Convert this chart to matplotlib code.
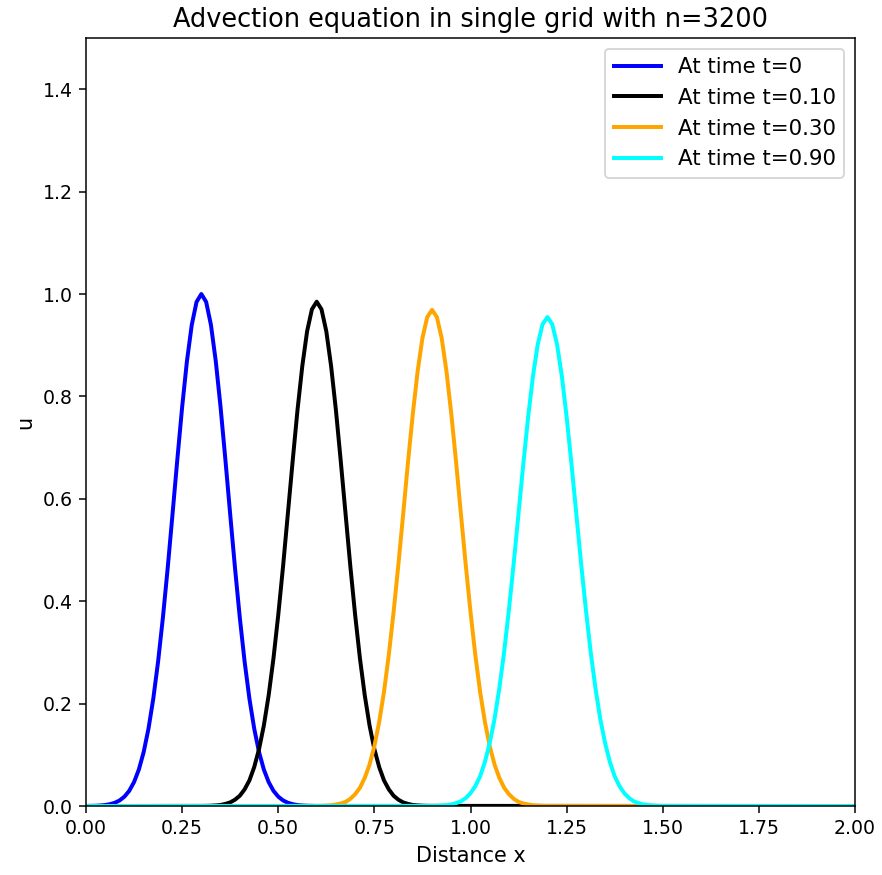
import matplotlib
matplotlib.use("Agg")
import matplotlib.pyplot as plt

offsets = [-0.3, -0.2875, -0.275, -0.2625, -0.25, -0.2375, -0.225, -0.2125, -0.2, -0.1875,
           -0.175, -0.1625, -0.15, -0.1375, -0.125, -0.1125, -0.1, -0.0875, -0.075, -0.0625,
           -0.05, -0.0375, -0.025, -0.0125, 0.0, 0.0125, 0.025, 0.0375, 0.05, 0.0625, 0.075,
           0.0875, 0.1, 0.1125, 0.125, 0.1375, 0.15, 0.1625, 0.175, 0.1875, 0.2, 0.2125, 0.225,
           0.2375, 0.25, 0.2625, 0.275, 0.2875, 0.3]

labels = ["At time t=0", "At time t=0.10", "At time t=0.30", "At time t=0.90"]
colors = ["blue", "black", "orange", "cyan"]
centers = [0.3, 0.6, 0.9, 1.2]

u_t0 = [0.0001, 0.0003, 0.0005, 0.0010, 0.0019, 0.0036, 0.0063, 0.0109, 0.0183, 0.0297,
        0.0468, 0.0713, 0.1054, 0.1510, 0.2096, 0.2821, 0.3679, 0.4650, 0.5698, 0.6766,
        0.7788, 0.8688, 0.9394, 0.9845, 1.0, 0.9845, 0.9394, 0.8688, 0.7788, 0.6766, 0.5698,
        0.4650, 0.3679, 0.2821, 0.2096, 0.1510, 0.1054, 0.0713, 0.0468, 0.0297, 0.0183, 0.0109,
        0.0063, 0.0036, 0.0019, 0.0010, 0.0005, 0.0003, 0.0001]
u_t010 = [0.0002, 0.0003, 0.0006, 0.0012, 0.002, 0.0041, 0.007, 0.0123, 0.020, 0.0325,
          0.050, 0.076, 0.111, 0.157, 0.216, 0.288, 0.373, 0.468, 0.571, 0.674,
          0.773, 0.859, 0.927, 0.970, 0.985, 0.970, 0.927, 0.859, 0.773, 0.674, 0.571,
          0.468, 0.373, 0.288, 0.216, 0.157, 0.111, 0.076, 0.050, 0.0325, 0.020, 0.0123,
          0.007, 0.0041, 0.002, 0.0012, 0.0006, 0.0003, 0.0002]
u_t030 = [0.0002, 0.0004, 0.0008, 0.0015, 0.003, 0.0049, 0.008, 0.0140, 0.023, 0.0357,
          0.055, 0.081, 0.117, 0.164, 0.223, 0.295, 0.379, 0.472, 0.571, 0.672,
          0.766, 0.849, 0.914, 0.955, 0.969, 0.955, 0.914, 0.849, 0.766, 0.672, 0.571,
          0.472, 0.379, 0.295, 0.223, 0.164, 0.117, 0.081, 0.055, 0.0357, 0.023, 0.0140,
          0.008, 0.0049, 0.003, 0.0015, 0.0008, 0.0004, 0.0002]
u_t090 = [0.0003, 0.0005, 0.001, 0.0018, 0.003, 0.0056, 0.009, 0.0155, 0.025, 0.0387,
          0.058, 0.086, 0.123, 0.170, 0.230, 0.301, 0.384, 0.475, 0.572, 0.669,
          0.760, 0.840, 0.902, 0.941, 0.955, 0.941, 0.902, 0.840, 0.760, 0.669, 0.572,
          0.475, 0.384, 0.301, 0.230, 0.170, 0.123, 0.086, 0.058, 0.0387, 0.025, 0.0155,
          0.009, 0.0056, 0.003, 0.0018, 0.001, 0.0005, 0.0003]
series = [u_t0, u_t010, u_t030, u_t090]

x_min, x_max = 0.0, 2.0

dpi = 136
fig = plt.figure(figsize=(882 / dpi, 875 / dpi), dpi=dpi)
ax = fig.add_axes([86 / 882, 1 - 806 / 875, (855 - 86) / 882, (806 - 38) / 875])

for c, u, lab, col in zip(centers, series, labels, colors):
    xs = [x_min] + [max(x_min, c + o) for o in offsets] + [x_max]
    ys = [0.0] + list(u) + [0.0]
    ax.plot(xs, ys, color=col, lw=2.1, label=lab, solid_joinstyle="round")

ax.set_xlim(0, 2)
ax.set_ylim(0, 1.5)
ax.set_xlabel("Distance x", fontsize=11)
ax.set_ylabel("u", fontsize=11)
ax.set_title("Advection equation in single grid with n=3200", fontsize=13.6)
ax.legend(loc="upper right", fontsize=11.3, handlelength=2.2)

fig.savefig("out.png", dpi=dpi)
